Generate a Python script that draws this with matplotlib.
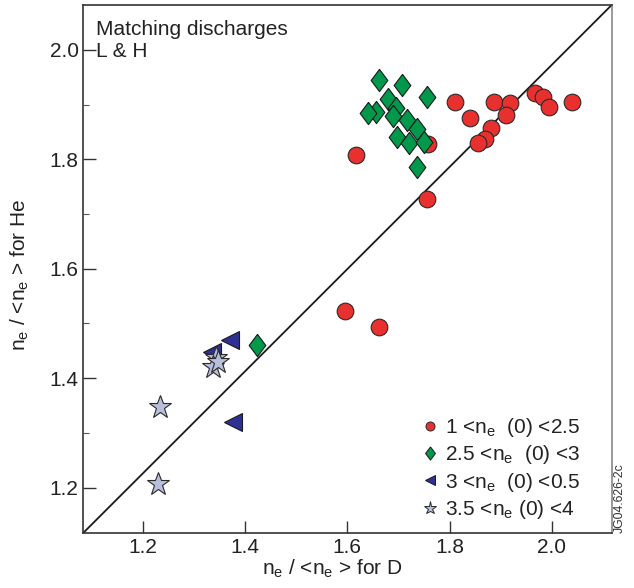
import matplotlib.pyplot as plt
from matplotlib.lines import Line2D

plt.rcParams['font.family'] = ['Liberation Sans', 'DejaVu Sans']
plt.rcParams['mathtext.default'] = 'regular'

# 1 < ne(0) < 2.5  (red circles)
red_x = [1.618, 1.757, 1.756, 1.810, 1.840, 1.887, 1.918, 1.911, 1.881, 1.869,
         1.855, 1.967, 1.982, 1.994, 2.040, 1.595, 1.662]
red_y = [1.808, 1.828, 1.727, 1.905, 1.875, 1.905, 1.903, 1.881, 1.857, 1.837,
         1.830, 1.921, 1.914, 1.896, 1.905, 1.522, 1.493]

# 2.5 < ne(0) < 3  (green diamonds)
green_x = [1.662, 1.708, 1.756, 1.680, 1.696, 1.656, 1.641, 1.689, 1.717, 1.737,
           1.698, 1.721, 1.750, 1.737, 1.423]
green_y = [1.944, 1.936, 1.914, 1.910, 1.893, 1.887, 1.884, 1.879, 1.871, 1.855,
           1.841, 1.829, 1.832, 1.785, 1.460]

# 3 < ne(0) < 0.5  (blue triangles)
blue_x = [1.371, 1.335, 1.377]
blue_y = [1.470, 1.447, 1.319]

# 3.5 < ne(0) < 4  (stars)
star_x = [1.344, 1.338, 1.348, 1.234, 1.231]
star_y = [1.437, 1.421, 1.430, 1.348, 1.207]

labels = ['1 <$n_e$  (0) <2.5', '2.5 <$n_e$  (0) <3',
          '3 <$n_e$  (0) <0.5', '3.5 <$n_e$ (0) <4']

xlim = (1.083, 2.117)
ylim = (1.116, 2.082)

# diamond shape: taller than wide
diamond = [(0, 1), (0.75, 0), (0, -1), (-0.75, 0), (0, 1)]

styles = [
    dict(marker='o', color='#e8312f', mec='#2a2a2a'),
    dict(marker=diamond, color='#00984a', mec='#1a1a1a'),
    dict(marker='<', color='#2e3192', mec='#1a1a1a'),
    dict(marker='*', color='#b7bfdc', mec='#2a2a2a'),
]
plot_sizes = [12, 16, 13, 17]
legend_sizes = [6.5, 9.5, 7.5, 9.5]

fig = plt.figure(figsize=(6.34, 5.88), dpi=100)
ax = fig.add_axes([0.1304, 0.0927, 0.8344, 0.8988])

# diagonal reference line, corner to corner
ax.plot(xlim, ylim, color='#1a1a1a', linewidth=1.3, zorder=1)

series = [(red_x, red_y), (green_x, green_y), (blue_x, blue_y), (star_x, star_y)]
for i, (xs, ys) in enumerate(series):
    ax.plot(xs, ys, ls='none', ms=plot_sizes[i], mew=0.8, zorder=2 + i, **styles[i])

ax.set_xlim(xlim)
ax.set_ylim(ylim)
ax.set_xticks([1.2, 1.4, 1.6, 1.8, 2.0])
ax.set_yticks([1.2, 1.4, 1.6, 1.8, 2.0])
ax.set_yticks([1.3, 1.5, 1.7, 1.9], minor=True)
ax.set_xticklabels(['1.2', '1.4', '1.6', '1.8', '2.0'])
ax.set_yticklabels(['1.2', '1.4', '1.6', '1.8', '2.0'])
ax.tick_params(direction='in', length=9, width=1, labelsize=15, colors='#333333',
               labelcolor='#222222', pad=3)
ax.tick_params(which='minor', direction='in', length=4, width=0.8, colors='#555555')

for s in ['left', 'bottom', 'top']:
    ax.spines[s].set_color('#333333')
    ax.spines[s].set_linewidth(1.2)
ax.spines['right'].set_color('#888888')
ax.spines['right'].set_linewidth(1.2)

ax.set_xlabel('$n_e$ / <$n_e$ > for D', fontsize=15, color='#222222')
ax.set_ylabel('$n_e$ / <$n_e$ > for He', fontsize=15, color='#222222')
ax.xaxis.set_label_coords(0.471, -0.045)
ax.yaxis.set_label_coords(-0.098, 0.489)

ax.text(0.026, 0.972, 'Matching discharges\nL & H', transform=ax.transAxes,
        fontsize=15, color='#222222', va='top', ha='left', linespacing=1.22)

handles = [Line2D([], [], ls='none', ms=legend_sizes[i], mew=0.7, **styles[i])
           for i in range(4)]
leg = ax.legend(handles, labels, loc='lower right', frameon=False, fontsize=15,
                handlelength=0.6, handletextpad=0.42, labelspacing=0.2,
                borderpad=0, borderaxespad=0, bbox_to_anchor=(0.94, 0.024))
for t in leg.get_texts():
    t.set_color('#222222')

fig.text(0.978, 0.093, 'JG04.626-2c', rotation=90, fontsize=8.8, color='#333333',
         ha='center', va='bottom')

plt.savefig('out.png', dpi=100)
